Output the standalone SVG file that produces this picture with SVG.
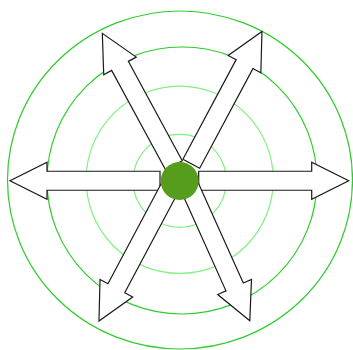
<svg xmlns="http://www.w3.org/2000/svg" xmlns:xlink="http://www.w3.org/1999/xlink" width="353" height="350" viewBox="0 0 353 350">
  <style>
    .ring-dark { fill: none; stroke: #2ccc2c; stroke-width: 1.2; }
    .ring-light { fill: none; stroke: #80f080; stroke-width: 1.2; }
    .arrow { fill: #ffffff; stroke: #1a1a1a; stroke-width: 1.2; stroke-linejoin: miter; }
    .hub { fill: #579d1c; stroke: none; }
  </style>
  <defs>
    <path id="arrow" d="M0,-9.5 L113,-9.5 L113,-18.5 L150,0 L113,18.5 L113,9.5 L0,9.5 Z"/>
  </defs>
  <rect width="353" height="350" fill="#ffffff"/>
  <g id="rings">
    <ellipse class="ring-dark" cx="180" cy="180" rx="172.5" ry="169"/>
    <ellipse class="ring-dark" cx="182" cy="180.5" rx="135" ry="133.5"/>
    <circle class="ring-light" cx="179.7" cy="179.8" r="93.6"/>
    <circle class="ring-light" cx="179.7" cy="180.8" r="46.5"/>
  </g>
  <g id="arrow-right"><use xlink:href="#arrow" class="arrow" transform="translate(198.7,180.75)"/></g>
  <g id="arrow-left"><use xlink:href="#arrow" class="arrow" transform="translate(160,180.75) rotate(180)"/></g>
  <g id="arrow-lower-left"><use xlink:href="#arrow" class="arrow" transform="translate(169.4,188.5) rotate(118)"/></g>
  <g id="arrow-lower-right"><use xlink:href="#arrow" class="arrow" transform="translate(188.3,183.9) rotate(65.8)"/></g>
  <g id="arrow-upper-left"><use xlink:href="#arrow" class="arrow" transform="translate(173.9,165.2) rotate(-118.5)"/></g>
  <g id="arrow-upper-right"><use xlink:href="#arrow" class="arrow" transform="translate(191.3,163.8) rotate(-61.9)"/></g>
  <g id="hub"><circle class="hub" cx="179.7" cy="181" r="19"/></g>
</svg>
